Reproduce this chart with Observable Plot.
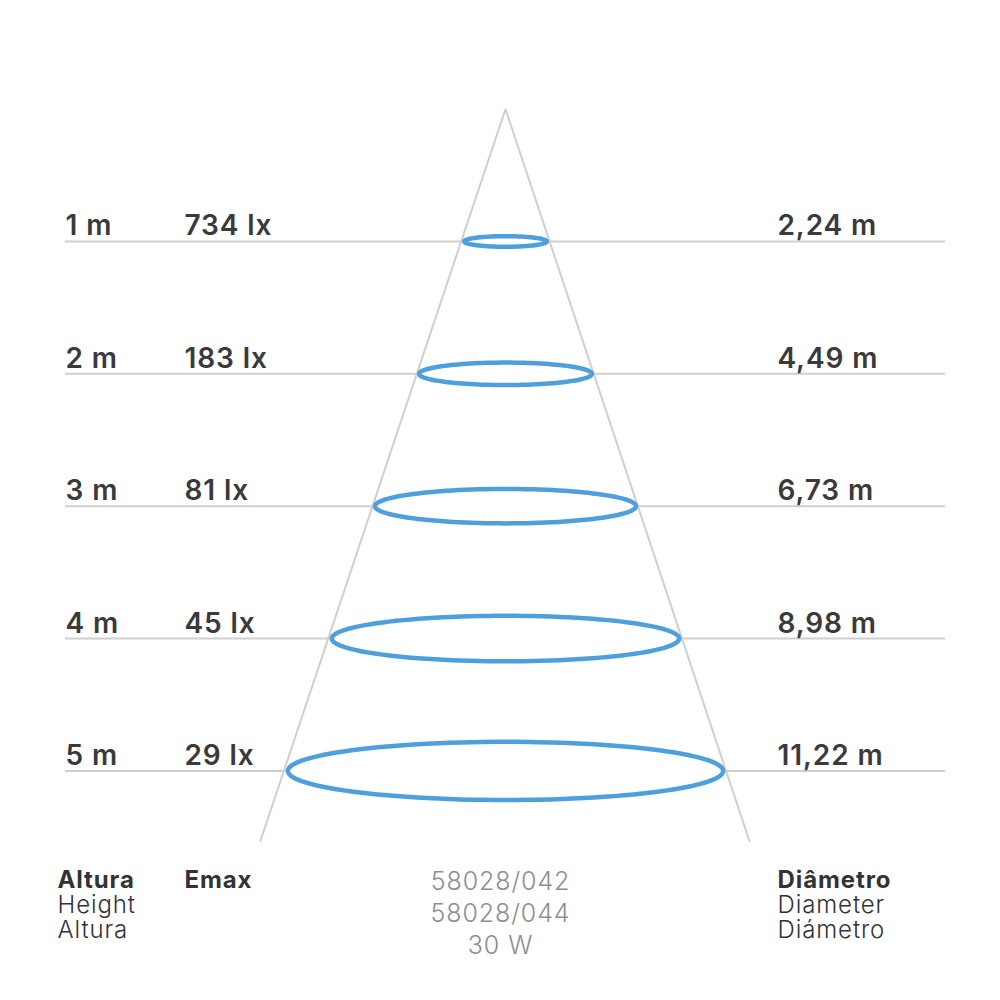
<!DOCTYPE html>
<html><head><meta charset="utf-8">
<script src="https://cdn.jsdelivr.net/npm/d3@7"></script>
<script src="https://cdn.jsdelivr.net/npm/@observablehq/plot@0.6"></script>
<style>html,body{margin:0;padding:0;background:#fff}svg{display:block}svg text{letter-spacing:.9px}</style>
</head><body><div id="c"></div>
<script>
const heights = [1, 2, 3, 4, 5];
const heightLabels = ["1 m", "2 m", "3 m", "4 m", "5 m"];
const luxLabels = ["734 lx", "183 lx", "81 lx", "45 lx", "29 lx"];
const diameterLabels = ["2,24 m", "4,49 m", "6,73 m", "8,98 m", "11,22 m"];
const rimWidths = [2.12, 4.44, 6.71, 8.93, 11.19];
const rimDepths = [0.04, 0.085, 0.13, 0.172, 0.22];
const coneEdge = [{x: -6.3, y: 5.53}, {x: 0, y: 0}, {x: 6.27, y: 5.53}];
const footerLeft = [["Altura", 700, 880], ["Height", 300, 905], ["Altura", 300, 930]];
const footerEmax = [["Emax", 700, 880]];
const footerMid = [["58028/042", 881], ["58028/044", 913], ["30 W", 945]];
const footerRight = [["Diâmetro", 700, 880], ["Diameter", 300, 905], ["Diámetro", 300, 930]];

const FONT = "Inter";
const rows = heights.map((h, i) => ({h, hl: heightLabels[i], lx: luxLabels[i], d: rimWidths[i], dl: diameterLabels[i], ry: rimDepths[i]}));
const rims = rows.flatMap(r => d3.range(0, 120).map(k => {
  const t = k / 120 * 2 * Math.PI;
  return {h: r.h, x: r.d / 2 * Math.cos(t), y: r.h + r.ry * Math.sin(t)};
}));
const X_END = 11.31;
const rules = rows.flatMap(r => [{y: r.h, x1: -X_END, x2: -r.d / 2}, {y: r.h, x1: r.d / 2, x2: X_END}]);
const labelText = (key, left) => Plot.text(rows, {
  text: key, y: "h", frameAnchor: "left", textAnchor: "start", dx: left, dy: -15,
  fontFamily: FONT, fontWeight: 600, fontSize: 28, fill: "#3a3a3c"
});
const footer = (arr, left) => arr.map(([t, w, top]) => Plot.text([t], {
  text: d => d, frameAnchor: "top-left", textAnchor: "start", dx: left, dy: top,
  lineAnchor: "middle", fontFamily: FONT, fontWeight: w, fontSize: 24, fill: "#333335"
}));

const chart = Plot.plot({
  width: 1000, height: 1000, margin: 0,
  x: {domain: [-X_END, X_END], range: [65, 945], axis: null},
  y: {domain: [0, 5], range: [108.6, 770.4], axis: null},
  marks: [
    Plot.line(coneEdge, {x: "x", y: "y", stroke: "#cfcfcf", strokeWidth: 2, strokeLinejoin: "miter"}),
    Plot.ruleY(rules, {y: "y", x1: "x1", x2: "x2", stroke: "#cfcfcf", strokeWidth: 2}),
    Plot.line(rims, {x: "x", y: "y", z: "h", curve: "linear-closed", stroke: "#4f9fdc", strokeWidth: 4.5}),
    labelText("hl", 65),
    labelText("lx", 184),
    labelText("dl", 777),
    ...footer(footerLeft, 57),
    ...footer(footerEmax, 184),
    ...footer(footerRight, 777),
    ...footerMid.map(([t, top]) => Plot.text([t], {
      text: d => d, frameAnchor: "top-left", textAnchor: "middle", dx: 500, dy: top,
      lineAnchor: "middle", fontFamily: FONT, fontWeight: 300, fontSize: 25, fill: "#8e8e8e"
    }))
  ]
});
document.getElementById("c").append(chart);
</script></body></html>
